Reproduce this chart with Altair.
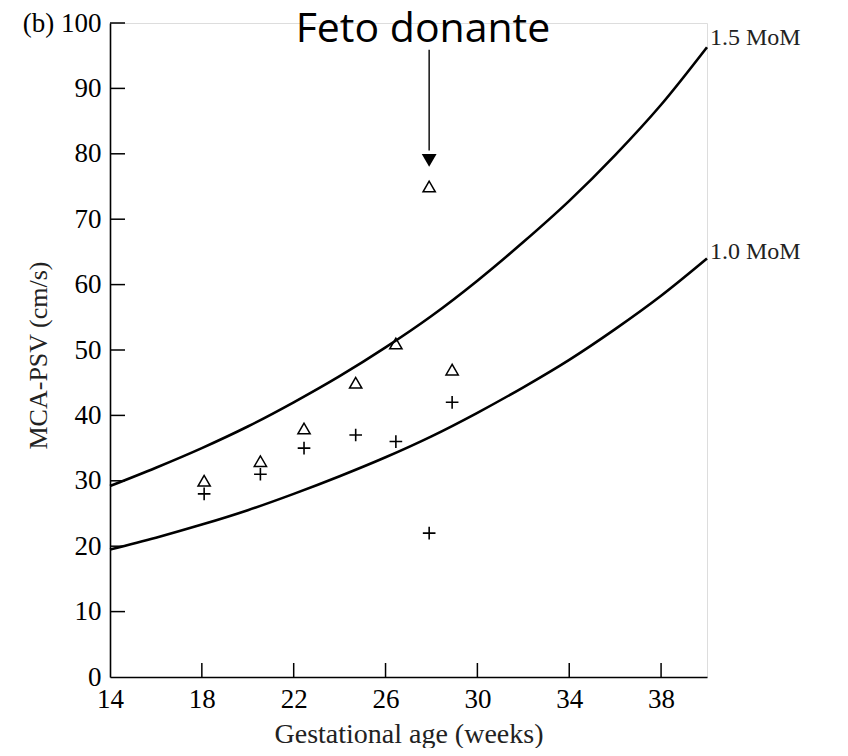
import altair as alt
import pandas as pd

# Reference curves
weeks = [14, 16, 18, 20, 22, 24, 26, 28, 30, 32, 34, 36, 38, 40]
mom_10 = [19.5, 21.3, 23.3, 25.5, 28.0, 30.7, 33.6, 36.8, 40.4, 44.3, 48.5, 53.2, 58.3, 64.0]
mom_15 = [29.2, 32.0, 35.0, 38.3, 42.0, 46.0, 50.4, 55.2, 60.6, 66.5, 72.8, 79.8, 87.5, 96.3]

# Observations
ga_points = [18.1, 20.55, 22.45, 24.7, 26.45, 27.9, 28.9]
psv_triangle = [30, 33, 38, 45, 51, 75, 47]
psv_plus = [28, 31, 35, 37, 36, 22, 42]

x_ticks = [18, 22, 26, 30, 34, 38]
y_ticks = [10, 20, 30, 40, 50, 60, 70, 80, 90, 100]

curve_labels = ["1.5 MoM", "1.0 MoM"]
curve_label_x = [40.0, 40.0]
curve_label_y = [97.7, 65.0]

W, H = 597, 654
SERIF = "Liberation Serif"

xs = alt.Scale(domain=[14, 40], nice=False, zero=False)
ys = alt.Scale(domain=[0, 100], nice=False)

curves = pd.DataFrame({
    "week": weeks * 2,
    "psv": mom_10 + mom_15,
    "curve": ["1.0"] * len(weeks) + ["1.5"] * len(weeks),
})
pts = pd.DataFrame({"ga": ga_points, "tri": psv_triangle, "plus": psv_plus})

x_axis = alt.Axis(values=[14, 18, 22, 26, 30, 34, 38], ticks=False, grid=False,
                  domainColor="black", domainWidth=1.6, labelPadding=9, labelFlush=False,
                  labelFont=SERIF, labelFontSize=27, labelColor="black",
                  title="Gestational age (weeks)", titleFont=SERIF, titleFontSize=28,
                  titleFontWeight="normal", titleColor="#222",
                  titleX=W / 2, titleY=65, titleBaseline="alphabetic", titleAlign="center")
y_axis = alt.Axis(values=[0] + y_ticks, ticks=False, grid=False,
                  domainColor="black", domainWidth=1.6, labelPadding=9, labelFlush=False,
                  labelFont=SERIF, labelFontSize=27, labelColor="black",
                  labelExpr="datum.value == 100 ? '(b) 100' : datum.label",
                  title="MCA-PSV (cm/s)", titleFont=SERIF, titleFontSize=26,
                  titleFontWeight="normal", titleColor="#222",
                  titleX=-64, titleY=332, titleAngle=270, titleBaseline="alphabetic",
                  titleAlign="center")

lines = alt.Chart(curves).mark_line(color="black", strokeWidth=2.6, interpolate="monotone").encode(
    x=alt.X("week:Q", scale=xs, axis=x_axis),
    y=alt.Y("psv:Q", scale=ys, axis=y_axis),
    detail="curve:N",
)

tri = alt.Chart(pts).mark_point(shape="triangle-up", filled=False, color="black",
                                strokeWidth=1.5, size=150, opacity=1).encode(
    x=alt.X("ga:Q", scale=xs), y=alt.Y("tri:Q", scale=ys))

plus = alt.Chart(pts).mark_point(shape="M-1,0L1,0M0,-1L0,1", filled=False, color="black",
                                 strokeWidth=1.6, size=160, opacity=1).encode(
    x=alt.X("ga:Q", scale=xs), y=alt.Y("plus:Q", scale=ys))

xt = alt.Chart(pd.DataFrame({"t": x_ticks})).mark_rule(color="black", strokeWidth=1.5).encode(
    x=alt.X("t:Q", scale=xs), y=alt.value(H), y2=alt.value(H - 14))
yt = alt.Chart(pd.DataFrame({"t": y_ticks})).mark_rule(color="black", strokeWidth=1.5).encode(
    y=alt.Y("t:Q", scale=ys), x=alt.value(0), x2=alt.value(15))

lab = alt.Chart(pd.DataFrame({"x": curve_label_x, "y": curve_label_y, "t": curve_labels})).mark_text(
    font=SERIF, fontSize=24, align="left", baseline="middle", dx=3, color="#222").encode(
    x=alt.X("x:Q", scale=xs), y=alt.Y("y:Q", scale=ys), text="t:N")

arrow_x = [27.9]
arrow_top = [95.9]
arrow_bottom = [80.5]
arrow_head = [79.0]
arrow_df = pd.DataFrame({"x": arrow_x, "y": arrow_top, "y2": arrow_bottom, "h": arrow_head})
arrow_line = alt.Chart(arrow_df).mark_rule(color="#222", strokeWidth=1.6).encode(
    x=alt.X("x:Q", scale=xs), y=alt.Y("y:Q", scale=ys), y2="y2:Q")
head = alt.Chart(arrow_df).mark_point(shape="triangle-down", filled=True, color="black",
                                      size=220, opacity=1).encode(
    x=alt.X("x:Q", scale=xs), y=alt.Y("h:Q", scale=ys))

title = alt.Chart(pd.DataFrame({"x": [27.63], "y": [97.1], "t": ["Feto donante"]})).mark_text(
    font="Open Sans", fontSize=41, baseline="alphabetic", align="center", color="black").encode(
    x=alt.X("x:Q", scale=xs), y=alt.Y("y:Q", scale=ys), text="t:N")

chart = alt.layer(lines, tri, plus, xt, yt, lab, arrow_line, head, title).properties(
    width=W, height=H,
    autosize=alt.AutoSizeParams(type="none"),
    padding={"left": 102, "top": 15, "right": 133, "bottom": 71},
).configure_view(stroke=None).configure(background="white")

chart.save("out.html", embed_options={"renderer": "svg", "actions": False})
